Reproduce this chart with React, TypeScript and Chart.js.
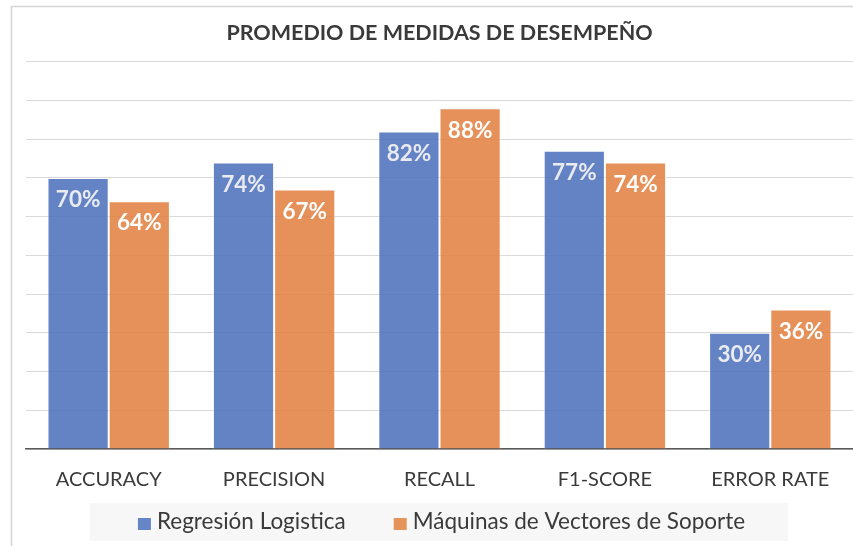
import React, { useEffect, useRef } from "react";
import { Chart, registerables } from "chart.js";

Chart.register(...registerables);

const chartTitle = "PROMEDIO DE MEDIDAS DE DESEMPEÑO";
const categories = ["ACCURACY", "PRECISION", "RECALL", "F1-SCORE", "ERROR RATE"];
const seriesNames = ["Regresión Logistica", "Máquinas de Vectores de Soporte"];
const regresionLogistica = [70, 74, 82, 77, 30];
const maquinasVectores = [64, 67, 88, 74, 36];
const yMin = 0;
const yMax = 100;
const yStep = 10;

const FONT = "Lato, sans-serif";
const TEXT = "#3a3a3a";
const BLUE = "rgba(74,111,188,0.86)";
const ORANGE = "rgba(226,127,63,0.86)";
const SWATCH = ["#6685c6", "#e6935b"];
const LABEL_COLORS = ["#e9ebf0", "#ffffff"];
const LEGEND_FONT_SIZE = 22.5;

function legendLayout(chart: any) {
  const { ctx, chartArea } = chart;
  ctx.save();
  ctx.font = `${LEGEND_FONT_SIZE}px ${FONT}`;
  const box = 13;
  const gap = 6;
  const itemGap = 48;
  const widths = seriesNames.map((n) => ctx.measureText(n).width);
  ctx.restore();
  const total = widths.reduce((a, w) => a + box + gap + w, 0) + itemGap * (seriesNames.length - 1);
  const cx = (chartArea.left + chartArea.right) / 2 + 2;
  let x = cx - total / 2;
  const items = seriesNames.map((n, i) => {
    const it = { x, w: widths[i], name: n };
    x += box + gap + widths[i] + itemGap;
    return it;
  });
  return { items, box, gap, start: cx - total / 2, end: cx + total / 2 };
}

const bgPlugin = {
  id: "bgPlugin",
  beforeDraw(chart: any) {
    const { ctx, width, height } = chart;
    ctx.save();
    ctx.fillStyle = "#ffffff";
    ctx.fillRect(0, 0, width, height);
    ctx.strokeStyle = "#d4d4d4";
    ctx.lineWidth = 1.5;
    ctx.beginPath();
    ctx.moveTo(11.5, height);
    ctx.lineTo(11.5, 6.5);
    ctx.lineTo(width, 6.5);
    ctx.stroke();
    ctx.restore();
  },
  afterDraw(chart: any) {
    const { ctx, chartArea } = chart;
    const lay = legendLayout(chart);
    const cy = chartArea.bottom + 73;
    ctx.save();
    ctx.fillStyle = "#f7f7f7";
    ctx.fillRect(lay.start - 48, cy - 19, lay.end - lay.start + 91, 38);
    ctx.font = `${LEGEND_FONT_SIZE}px ${FONT}`;
    ctx.textBaseline = "middle";
    ctx.textAlign = "left";
    lay.items.forEach((it, i) => {
      ctx.fillStyle = SWATCH[i];
      ctx.fillRect(it.x, cy - 4, lay.box, 12);
      ctx.fillStyle = TEXT;
      ctx.fillText(it.name, it.x + lay.box + lay.gap, cy);
    });
    ctx.restore();
  },
};

const valueLabelPlugin = {
  id: "valueLabelPlugin",
  afterDatasetsDraw(chart: any) {
    const { ctx } = chart;
    ctx.save();
    ctx.font = `bold 22.5px ${FONT}`;
    ctx.textAlign = "center";
    ctx.textBaseline = "middle";
    chart.data.datasets.forEach((ds: any, di: number) => {
      const meta = chart.getDatasetMeta(di);
      meta.data.forEach((bar: any, i: number) => {
        ctx.fillStyle = LABEL_COLORS[di];
        ctx.fillText(`${ds.data[i]}%`, bar.x, bar.y + 22);
      });
    });
    ctx.restore();
  },
};

export default function App() {
  const ref = useRef<HTMLCanvasElement | null>(null);
  useEffect(() => {
    if (!ref.current) return;
    const chart = new Chart(ref.current, {
      type: "bar",
      data: {
        labels: categories,
        datasets: [
          {
            label: seriesNames[0],
            data: regresionLogistica,
            backgroundColor: BLUE,
            borderColor: "rgba(255,255,255,0.6)",
            borderWidth: 1,
            categoryPercentage: 0.74,
            barPercentage: 1,
          },
          {
            label: seriesNames[1],
            data: maquinasVectores,
            backgroundColor: ORANGE,
            borderColor: "rgba(255,255,255,0.6)",
            borderWidth: 1,
            categoryPercentage: 0.74,
            barPercentage: 1,
          },
        ],
      },
      options: {
        responsive: false,
        animation: false,
        layout: { padding: { left: 26, right: 0, top: 0, bottom: 35 } },
        plugins: {
          title: {
            display: true,
            text: chartTitle,
            color: TEXT,
            font: { family: FONT, size: 21.5, weight: "bold" },
            padding: { top: 20, bottom: 16 },
          },
          legend: { display: false },
          tooltip: { enabled: false },
        },
        scales: {
          x: {
            grid: { display: false, drawTicks: false },
            border: { display: true, color: "#595959", width: 1.5 },
            ticks: {
              color: TEXT,
              font: { family: FONT, size: 20 },
              padding: 19,
              maxRotation: 0,
              autoSkip: false,
            },
          },
          y: {
            min: yMin,
            max: yMax,
            ticks: { display: false, stepSize: yStep },
            grid: { color: "#d9d9d9", lineWidth: 1, drawTicks: false },
            border: { display: false },
          },
        },
      },
      plugins: [bgPlugin, valueLabelPlugin],
    });
    return () => chart.destroy();
  }, []);
  return (
    <div style={{ position: "absolute", left: 0, top: 0, width: 853, height: 546 }}>
      <canvas ref={ref} width={853} height={546} style={{ display: "block" }} />
    </div>
  );
}
